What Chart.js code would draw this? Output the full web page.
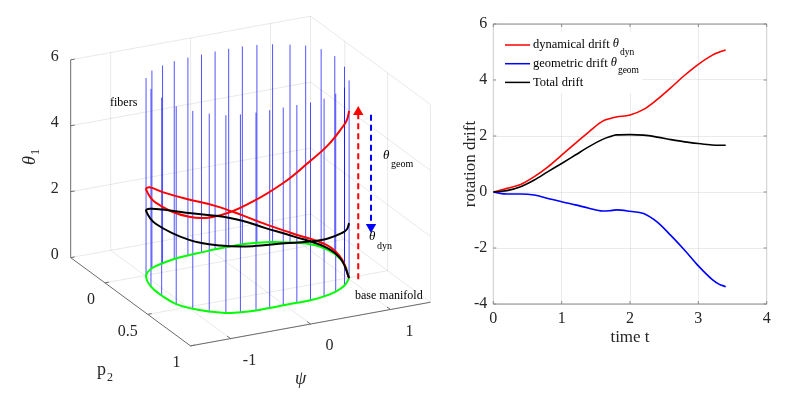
<!DOCTYPE html>
<html>
<head>
<meta charset="utf-8">
<script src="https://cdn.jsdelivr.net/npm/chart.js@4/dist/chart.umd.min.js"></script>
<style>
  body { margin: 0; background: #fff; width: 810px; height: 396px; overflow: hidden; position: relative; }
  #fiberChart { position: absolute; left: 0; top: 0; }
  #driftChart { position: absolute; left: 440px; top: 0; }
</style>
</head>
<body>
<canvas id="fiberChart" width="440" height="396"></canvas>
<canvas id="driftChart" width="370" height="396"></canvas>
<script>
// rotation drift along the trajectory (right panel)
const timeT      = [0, 0.1, 0.2, 0.4, 0.6, 0.8, 1.0, 1.2, 1.4, 1.6, 1.7, 1.8, 2.0, 2.2, 2.4, 2.6, 2.8, 3.0, 3.2, 3.3, 3.4];
const dynDrift   = [0, 0.06, 0.13, 0.27, 0.55, 0.90, 1.32, 1.74, 2.15, 2.53, 2.62, 2.68, 2.75, 2.95, 3.31, 3.73, 4.17, 4.56, 4.88, 4.99, 5.07];
const geomDrift  = [0, -0.05, -0.07, -0.07, -0.11, -0.23, -0.35, -0.46, -0.58, -0.68, -0.67, -0.64, -0.69, -0.77, -1.08, -1.56, -2.08, -2.64, -3.12, -3.29, -3.38];
const totalDrift = [0, 0.02, 0.05, 0.19, 0.43, 0.73, 1.02, 1.32, 1.62, 1.88, 1.97, 2.04, 2.05, 2.03, 1.96, 1.87, 1.79, 1.73, 1.68, 1.67, 1.67];
const timeTicks  = [0, 1, 2, 3, 4];
const driftTicks = [-4, -2, 0, 2, 4, 6];

// base point (psi, p2) of the trajectory at each timeT (left panel)
const orbitPsi = [1.012, 1.175, 1.180, 0.938, 0.659, 0.389, 0.061, -0.324, -0.651, -0.888, -0.992, -1.102, -0.991, -0.744, -0.400, 0.002, 0.288, 0.565, 0.809, 0.907, 1.012];
const orbitP2  = [0.506, 0.265, 0.085, -0.076, -0.149, -0.172, -0.171, -0.152, -0.119, -0.051, 0.006, 0.221, 0.508, 0.644, 0.697, 0.697, 0.697, 0.677, 0.617, 0.579, 0.506];

// base manifold loop, one fiber stands on every point
const basePsi = [1.012, 1.154, 1.199, 1.157, 1.049, 0.906, 0.737, 0.570, 0.404, 0.234, 0.062, -0.117, -0.294, -0.480, -0.655, -0.831, -0.992,
                 -1.091, -1.103, -1.074, -0.972, -0.843, -0.698, -0.541, -0.361, -0.190, -0.018, 0.153, 0.325, 0.513, 0.696, 0.866, 1.012];
const baseP2  = [0.506, 0.320, 0.164, 0.044, -0.036, -0.085, -0.131, -0.158, -0.173, -0.174, -0.172, -0.164, -0.157, -0.143, -0.116, -0.076, 0.006,
                 0.156, 0.292, 0.435, 0.533, 0.605, 0.664, 0.687, 0.701, 0.701, 0.699, 0.698, 0.697, 0.680, 0.645, 0.589, 0.506];
const fiberTop = 6;

const psiLim = [-1.5, 1.5], p2Lim = [-0.4, 1], thetaLim = [0, 6];
const psiTicks = [-1, 0, 1], p2Ticks = [0, 0.5, 1], thetaTicks = [0, 2, 4, 6];

const serif = '"Liberation Serif", "Times New Roman", serif';
Chart.defaults.font.family = serif;

// ---------- left: 3-D view drawn on a scatter chart ----------
// pixels per unit along psi, p2, theta1 (x right, y up)
const view = { psi: [82.2, 15], p2: [88, -65], theta: [0, 34] };
function project(psi, p2, th) {
  return { x: view.psi[0] * psi + view.p2[0] * p2 + view.theta[0] * th,
           y: view.psi[1] * psi + view.p2[1] * p2 + view.theta[1] * th };
}
const gap = { x: NaN, y: NaN };
function segData(segs) {
  const d = [];
  segs.forEach(([a, b]) => { d.push(project(...a), project(...b), gap); });
  return d;
}

const gridSegs = [];
psiTicks.forEach(v => {
  gridSegs.push([[v, p2Lim[0], 0], [v, p2Lim[1], 0]]);
  gridSegs.push([[v, p2Lim[0], 0], [v, p2Lim[0], thetaLim[1]]]);
});
p2Ticks.forEach(v => {
  gridSegs.push([[psiLim[0], v, 0], [psiLim[1], v, 0]]);
  gridSegs.push([[psiLim[1], v, 0], [psiLim[1], v, thetaLim[1]]]);
});
thetaTicks.forEach(v => {
  gridSegs.push([[psiLim[0], p2Lim[0], v], [psiLim[1], p2Lim[0], v]]);
  gridSegs.push([[psiLim[1], p2Lim[0], v], [psiLim[1], p2Lim[1], v]]);
});
gridSegs.push([[psiLim[1], p2Lim[0], 0], [psiLim[1], p2Lim[0], thetaLim[1]]]);

const axisSegs = [
  [[psiLim[0], p2Lim[0], 0], [psiLim[0], p2Lim[0], thetaLim[1]]],
  [[psiLim[0], p2Lim[0], 0], [psiLim[0], p2Lim[1], 0]],
  [[psiLim[0], p2Lim[1], 0], [psiLim[1], p2Lim[1], 0]]
];
psiTicks.forEach(v => axisSegs.push([[v, p2Lim[1], 0], [v, p2Lim[1] - 0.04, 0]]));
p2Ticks.forEach(v => axisSegs.push([[psiLim[0], v, 0], [psiLim[0] + 0.05, v, 0]]));
thetaTicks.forEach(v => axisSegs.push([[psiLim[0], p2Lim[0], v], [psiLim[0] + 0.05, p2Lim[0], v]]));

const fiberSegs = basePsi.slice(0, -1).map((v, i) => [[v, baseP2[i], 0], [v, baseP2[i], fiberTop]]);

const dynEnd = dynDrift[dynDrift.length - 1];
const totEnd = totalDrift[totalDrift.length - 1];
const arrowDynAt = [1.09, 0.54], arrowGeomAt = [1.18, 0.605];

const line3d = { showLine: true, pointRadius: 0, fill: false };

const labels3d = {
  id: 'labels3d',
  afterDraw(chart) {
    const { ctx } = chart;
    const sx = chart.scales.x, sy = chart.scales.y;
    const px = (a, b, c) => { const p = project(a, b, c); return [sx.getPixelForValue(p.x), sy.getPixelForValue(p.y)]; };
    ctx.save();
    ctx.fillStyle = '#262626';
    ctx.font = '16px ' + serif;
    ctx.textBaseline = 'middle';
    ctx.textAlign = 'right';
    thetaTicks.forEach(v => { const [x, y] = px(psiLim[0], p2Lim[0], v); ctx.fillText(String(v), x - 12, y - 3); });
    p2Ticks.forEach(v => { const [x, y] = px(psiLim[0], v, 0); ctx.fillText(String(v), x - 10, y + 17); });
    ctx.textAlign = 'center';
    psiTicks.forEach(v => { const [x, y] = px(v, p2Lim[1], 0); ctx.fillText(String(v), x + 19, y + 22); });

    // axis titles
    ctx.save();
    ctx.translate(30, 158);
    ctx.rotate(-Math.PI / 2);
    ctx.textAlign = 'left';
    ctx.font = 'italic 18px ' + serif;
    ctx.fillText('θ', -7, 0);
    ctx.font = '12px ' + serif;
    ctx.fillText('1', 3, 6);
    ctx.restore();
    ctx.textAlign = 'left';
    ctx.font = '18px ' + serif;
    ctx.fillText('p', 97, 370);
    ctx.font = '12px ' + serif;
    ctx.fillText('2', 107, 378);
    ctx.font = 'italic 18px ' + serif;
    ctx.fillText('ψ', 295, 379);

    // annotations
    ctx.fillStyle = '#000';
    ctx.font = '12px ' + serif;
    ctx.fillText('fibers', 110, 103);
    ctx.fillText('base manifold', 355, 296);
    ctx.font = 'italic 13px ' + serif;
    ctx.fillText('θ', 383, 156);
    ctx.fillText('θ', 369, 237);
    ctx.font = '10px ' + serif;
    ctx.fillText('geom', 391, 164);
    ctx.fillText('dyn', 377, 246);
    ctx.restore();
  }
};

new Chart(document.getElementById('fiberChart'), {
  type: 'scatter',
  data: {
    datasets: [
      { ...line3d, label: 'grid', data: segData(gridSegs), borderColor: 'rgba(0,0,0,0.09)', borderWidth: 1, order: 10 },
      { ...line3d, label: 'axes', data: segData(axisSegs), borderColor: '#6b6b6b', borderWidth: 1, order: 9 },
      { ...line3d, label: 'fibers', data: segData(fiberSegs), borderColor: 'rgba(0,0,255,0.68)', borderWidth: 1, order: 8 },
      { ...line3d, label: 'base manifold', data: basePsi.map((v, i) => project(v, baseP2[i], 0)),
        borderColor: '#00ff00', borderWidth: 2, tension: 0.4, order: 7 },
      { ...line3d, label: 'dynamical drift', data: [project(...arrowDynAt, 0), project(...arrowDynAt, dynEnd)],
        borderColor: '#ff0000', borderWidth: 2, borderDash: [6, 4], order: 6,
        pointRadius: [0, 4], pointStyle: 'triangle', pointRotation: 0, pointBackgroundColor: '#ff0000', pointBorderColor: '#ff0000' },
      { ...line3d, label: 'geometric drift', data: [project(...arrowGeomAt, dynEnd), project(...arrowGeomAt, totEnd)],
        borderColor: '#0000ff', borderWidth: 2, borderDash: [6, 4], order: 6,
        pointRadius: [0, 4], pointStyle: 'triangle', pointRotation: 180, pointBackgroundColor: '#0000ff', pointBorderColor: '#0000ff' },
      { ...line3d, label: 'dynamical lift', data: orbitPsi.map((v, i) => project(v, orbitP2[i], dynDrift[i])),
        borderColor: '#ff0000', borderWidth: 2, tension: 0.4, order: 5 },
      { ...line3d, label: 'total lift', data: orbitPsi.map((v, i) => project(v, orbitP2[i], totalDrift[i])),
        borderColor: '#000000', borderWidth: 2, tension: 0.4, order: 4 }
    ]
  },
  options: {
    responsive: false,
    animation: false,
    events: [],
    layout: { padding: 0 },
    plugins: { legend: { display: false }, tooltip: { enabled: false } },
    scales: {
      x: { type: 'linear', display: false, min: -225, max: 215 },
      y: { type: 'linear', display: false, min: -133, max: 263 }
    }
  },
  plugins: [labels3d]
});

// ---------- right: drift against time ----------
const frameTicks = {
  id: 'frameTicks',
  beforeDatasetsDraw(chart) {
    const { ctx, chartArea: a } = chart;
    const sx = chart.scales.x, sy = chart.scales.y;
    ctx.save();
    ctx.lineWidth = 1;
    ctx.strokeStyle = '#8a8a8a';
    ctx.beginPath();
    ctx.moveTo(a.left, a.top); ctx.lineTo(a.right, a.top);
    ctx.moveTo(a.left, a.bottom); ctx.lineTo(a.right, a.bottom);
    ctx.stroke();
    ctx.strokeStyle = '#cfcfcf';
    ctx.beginPath();
    ctx.moveTo(a.left, a.top); ctx.lineTo(a.left, a.bottom);
    ctx.moveTo(a.right, a.top); ctx.lineTo(a.right, a.bottom);
    ctx.stroke();
    ctx.strokeStyle = '#8a8a8a';
    ctx.beginPath();
    timeTicks.forEach(v => {
      const x = sx.getPixelForValue(v);
      ctx.moveTo(x, a.bottom); ctx.lineTo(x, a.bottom - 3);
      ctx.moveTo(x, a.top); ctx.lineTo(x, a.top + 3);
    });
    driftTicks.forEach(v => {
      const y = sy.getPixelForValue(v);
      ctx.moveTo(a.left, y); ctx.lineTo(a.left + 3, y);
      ctx.moveTo(a.right, y); ctx.lineTo(a.right - 3, y);
    });
    ctx.stroke();
    ctx.restore();
  }
};

const driftLegend = {
  id: 'driftLegend',
  afterDraw(chart) {
    const { ctx } = chart;
    const rows = [
      { color: '#ff0000', text: 'dynamical drift ', sub: 'dyn' },
      { color: '#0000ff', text: 'geometric drift ', sub: 'geom' },
      { color: '#000000', text: 'Total drift', sub: null }
    ];
    ctx.save();
    ctx.fillStyle = '#fff';
    ctx.fillRect(56, 32, 146, 61);
    rows.forEach((r, i) => {
      const y = 45 + i * 18.7;
      ctx.strokeStyle = r.color;
      ctx.lineWidth = 1.5;
      ctx.beginPath(); ctx.moveTo(65, y); ctx.lineTo(90, y); ctx.stroke();
      ctx.fillStyle = '#000';
      ctx.textAlign = 'left';
      ctx.textBaseline = 'middle';
      ctx.font = '12.5px ' + serif;
      let x = 93;
      ctx.fillText(r.text, x, y);
      if (r.sub) {
        x += ctx.measureText(r.text).width;
        ctx.font = 'italic 12.5px ' + serif;
        ctx.fillText('θ', x, y - 1);
        x += ctx.measureText('θ').width;
        ctx.font = '9.5px ' + serif;
        ctx.fillText(r.sub, x + 1, y + 7);
      }
    });
    ctx.restore();
  }
};

const series = (vals) => timeT.map((t, i) => ({ x: t, y: vals[i] }));
const tickFont = { size: 16, family: serif };

new Chart(document.getElementById('driftChart'), {
  type: 'line',
  data: {
    datasets: [
      { label: 'dynamical drift', data: series(dynDrift), borderColor: '#ff0000', order: 3 },
      { label: 'geometric drift', data: series(geomDrift), borderColor: '#0000ff', order: 2 },
      { label: 'Total drift', data: series(totalDrift), borderColor: '#000000', order: 1 }
    ].map(d => ({ ...d, borderWidth: 1.6, pointRadius: 0, fill: false, cubicInterpolationMode: 'monotone' }))
  },
  options: {
    responsive: false,
    animation: false,
    events: [],
    layout: { padding: { left: 0, right: 43.3, top: 24, bottom: 0 } },
    plugins: { legend: { display: false }, tooltip: { enabled: false } },
    scales: {
      x: {
        type: 'linear', min: 0, max: 4,
        afterBuildTicks: s => { s.ticks = timeTicks.map(v => ({ value: v })); },
        afterFit: s => { s.height = 92; },
        ticks: { font: tickFont, color: '#262626', padding: 5, maxRotation: 0 },
        grid: { color: 'rgba(0,0,0,0.08)', drawTicks: false },
        border: { display: false },
        title: { display: true, text: 'time t', font: { size: 17, family: serif }, color: '#262626', padding: { top: 0, bottom: 48 } }
      },
      y: {
        type: 'linear', min: -4, max: 6,
        afterBuildTicks: s => { s.ticks = driftTicks.map(v => ({ value: v })); },
        afterFit: s => { s.width = 53.3; },
        ticks: { font: tickFont, color: '#262626', padding: 6 },
        grid: { color: 'rgba(0,0,0,0.08)', drawTicks: false },
        border: { display: false },
        title: { display: true, text: 'rotation drift', font: { size: 17, family: serif }, color: '#262626', padding: { top: 20, bottom: 0 } }
      }
    }
  },
  plugins: [frameTicks, driftLegend]
});
</script>
</body>
</html>
